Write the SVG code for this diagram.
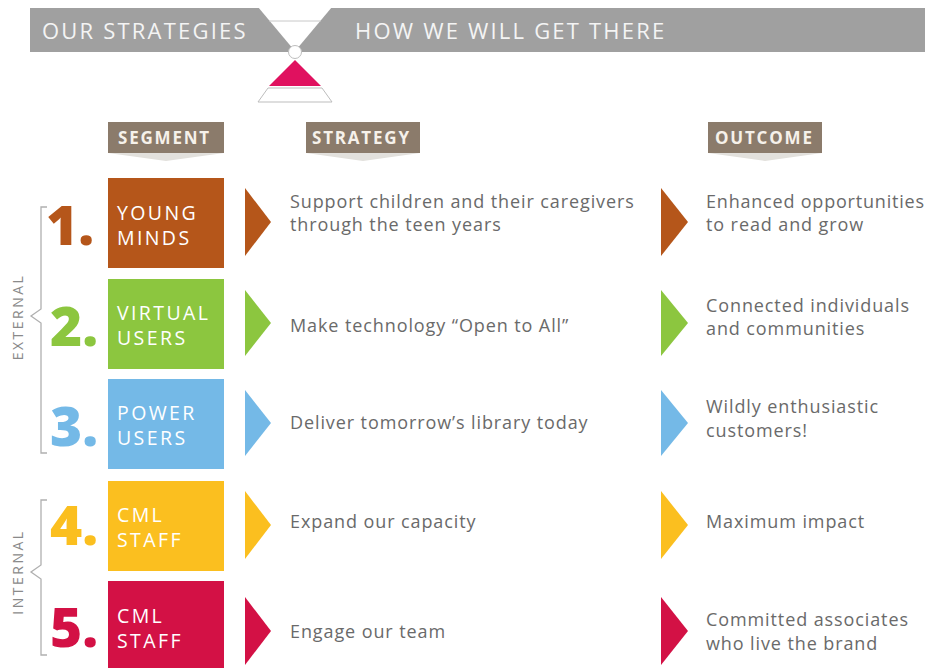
<svg xmlns="http://www.w3.org/2000/svg" width="925" height="668" viewBox="0 0 925 668">
<style>
.banner{font-family:"Open Sans","Liberation Sans",sans-serif;font-size:22px;fill:#f4f4f4;font-weight:400;letter-spacing:2.2px}
.hdr{fill:#8b7b6b}
.hdrt{font-family:"Open Sans","Liberation Sans",sans-serif;font-size:17px;font-weight:700;fill:#f6f1ea;letter-spacing:1.8px}
.chev{fill:#e2e0dc}
.lbl{font-family:"Open Sans","Liberation Sans",sans-serif;font-size:19.5px;fill:#ffffff;letter-spacing:2.4px}
.num{font-family:"Open Sans","Liberation Sans",sans-serif;font-size:55px;font-weight:800}
.txt{font-family:"Open Sans","Liberation Sans",sans-serif;font-size:18px;fill:#6a6a6a;letter-spacing:0.9px}
.br{fill:none;stroke:#b0b0b0;stroke-width:1.3}
.side{font-family:"Open Sans","Liberation Sans",sans-serif;font-size:14px;fill:#8a8a8a;letter-spacing:2.5px;text-anchor:middle}
</style>
<rect width="925" height="668" fill="#ffffff"/>
<g id="banner">
<rect x="30" y="8" width="895" height="44" fill="#a0a0a0"/>
<text class="banner" x="42" y="39">OUR STRATEGIES</text>
<text class="banner" x="355" y="39">HOW WE WILL GET THERE</text>
</g>
<g id="hourglass">
<polygon points="258,7 332,7 296,50 294,50" fill="#ffffff"/>
<line x1="269" y1="21" x2="321" y2="21" stroke="#c8c8c8" stroke-width="1"/>
<circle cx="295" cy="52" r="6.5" fill="#ffffff" stroke="#bdbdbd" stroke-width="1"/>
<polygon points="295,60 321,86 269,86" fill="#e0115f"/>
<polygon points="268,88 322,88 332,102 258,102" fill="#ffffff" stroke="#bdbdbd" stroke-width="1"/>
</g>
<g id="header-segment">
<polygon class="chev" points="108,153 224,153 166,161"/>
<rect class="hdr" x="108" y="122" width="116" height="31"/>
<text class="hdrt" x="118" y="144">SEGMENT</text>
</g>
<g id="header-strategy">
<polygon class="chev" points="306,153 420,153 363,161"/>
<rect class="hdr" x="306" y="122" width="114" height="31"/>
<text class="hdrt" x="312" y="144">STRATEGY</text>
</g>
<g id="header-outcome">
<polygon class="chev" points="708,153 822,153 765,161"/>
<rect class="hdr" x="708" y="122" width="114" height="31"/>
<text class="hdrt" x="715" y="144">OUTCOME</text>
</g>
<g id="bracket-external">
<path class="br" d="M47,207 H41 V309 L31,316 L41,323 V453 H47"/>
<text class="side" transform="translate(23,317) rotate(-90)">EXTERNAL</text>
</g>
<g id="bracket-internal">
<path class="br" d="M47,500 H41 V565 L31,572 L41,579 V655 H47"/>
<text class="side" transform="translate(23,572) rotate(-90)">INTERNAL</text>
</g>
<g id="row1">
<text class="num" x="46" y="245" fill="#b5561a">1.</text>
<rect x="108" y="178" width="116" height="90" fill="#b5561a"/>
<text class="lbl" x="117" y="220">YOUNG</text>
<text class="lbl" x="117" y="245">MINDS</text>
</g>
<g id="row2">
<text class="num" x="50" y="346" fill="#8cc63f">2.</text>
<rect x="108" y="279" width="116" height="90" fill="#8cc63f"/>
<text class="lbl" x="117" y="320">VIRTUAL</text>
<text class="lbl" x="117" y="345">USERS</text>
</g>
<g id="row3">
<text class="num" x="50" y="446" fill="#74b9e7">3.</text>
<rect x="108" y="379" width="116" height="90" fill="#74b9e7"/>
<text class="lbl" x="117" y="420">POWER</text>
<text class="lbl" x="117" y="445">USERS</text>
</g>
<g id="row4">
<text class="num" x="50" y="545" fill="#fbbf1f">4.</text>
<rect x="108" y="481" width="116" height="90" fill="#fbbf1f"/>
<text class="lbl" x="117" y="522">CML</text>
<text class="lbl" x="117" y="547">STAFF</text>
</g>
<g id="row5">
<text class="num" x="50" y="647" fill="#d31145">5.</text>
<rect x="108" y="581" width="116" height="87" fill="#d31145"/>
<text class="lbl" x="117" y="623">CML</text>
<text class="lbl" x="117" y="648">STAFF</text>
</g>
<g id="connectors">
<polygon points="245,188 271,222 245,256" fill="#b5561a"/>
<polygon points="661,188 688,222 661,256" fill="#b5561a"/>
<polygon points="245,290 271,323 245,356" fill="#8cc63f"/>
<polygon points="661,290 688,323 661,356" fill="#8cc63f"/>
<polygon points="245,390 271,423 245,456" fill="#74b9e7"/>
<polygon points="661,390 688,423 661,456" fill="#74b9e7"/>
<polygon points="245,491 271,525 245,559" fill="#fbbf1f"/>
<polygon points="661,491 688,525 661,559" fill="#fbbf1f"/>
<polygon points="245,597 271,631 245,665" fill="#d31145"/>
<polygon points="661,597 688,631 661,665" fill="#d31145"/>
</g>
<g id="strategy1"><text class="txt" x="290" y="208">Support children and their caregivers</text><text class="txt" x="290" y="231">through the teen years</text></g>
<g id="outcome1"><text class="txt" x="706" y="208" style="letter-spacing:0.8px">Enhanced opportunities</text><text class="txt" x="706" y="231">to read and grow</text></g>
<g id="strategy2"><text class="txt" x="290" y="332">Make technology “Open to All”</text></g>
<g id="outcome2"><text class="txt" x="706" y="312">Connected individuals</text><text class="txt" x="706" y="335">and communities</text></g>
<g id="strategy3"><text class="txt" x="290" y="429">Deliver tomorrow’s library today</text></g>
<g id="outcome3"><text class="txt" x="706" y="413">Wildly enthusiastic</text><text class="txt" x="706" y="437">customers!</text></g>
<g id="strategy4"><text class="txt" x="290" y="528">Expand our capacity</text></g>
<g id="outcome4"><text class="txt" x="706" y="528">Maximum impact</text></g>
<g id="strategy5"><text class="txt" x="290" y="638">Engage our team</text></g>
<g id="outcome5"><text class="txt" x="706" y="626">Committed associates</text><text class="txt" x="706" y="650">who live the brand</text></g>
</svg>
